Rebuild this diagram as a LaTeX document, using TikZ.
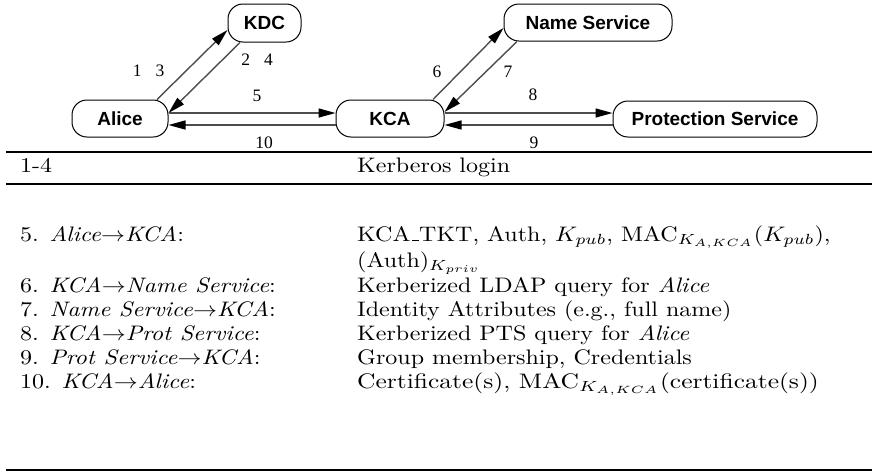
\documentclass[tikz,border=0pt]{standalone}
\usepackage{graphicx}
\usepackage{fontspec}
\newfontfamily\helv{Liberation Sans}
\newfontfamily\tms{Liberation Serif}
\usetikzlibrary{arrows.meta}
\newcommand{\tabtxt}[1]{\scalebox{2.4}[2.1]{\normalsize #1}}
\newcommand{\tabwide}[1]{\scalebox{2.55}[2.1]{\normalsize #1}}
\newcommand{\ulsc}{\leavevmode\kern.06em\vbox{\hrule width.3em}}
\begin{document}
\begin{tikzpicture}[x=1pt,y=-1pt,
  box/.style={draw=black, line width=1pt, rounded corners=15pt, font=\helv\bfseries\fontsize{19}{22}\selectfont, inner sep=0pt},
  conn/.style={draw=black!70, line width=1.4pt, -{Triangle[length=17pt,width=9pt,color=black]}},
  lbl/.style={font=\tms\fontsize{17.5}{20}\selectfont, inner sep=0pt},
  tab/.style={anchor=base west, inner sep=0pt},
  hrule/.style={line width=2.5pt}]
\useasboundingbox (0,0) rectangle (872,475);
% nodes
\node[box, minimum width=73pt, minimum height=38pt] (kdc) at (264.5,23) {KDC};
\node[box, minimum width=96pt, minimum height=37pt] (alice) at (120,118.5) {Alice};
\node[box, minimum width=108pt, minimum height=37pt] (kca) at (390,118.5) {KCA};
\node[box, minimum width=168pt, minimum height=37pt] (ns) at (588,22.5) {Name Service};
\node[box, minimum width=204pt, minimum height=36pt] (ps) at (715,119) {Protection Service};
% connectors
\draw[conn] ([xshift=37pt]alice.north) -- ([yshift=-7pt]kdc.west);
\draw[conn] ([xshift=-24.5pt]kdc.south) -- ([yshift=5.5pt]alice.east);
\draw[conn] ([yshift=5.5pt]alice.east) -- ([yshift=5.5pt]kca.west);
\draw[conn] ([yshift=-6.5pt]kca.west) -- ([yshift=-6.5pt]alice.east);
\draw[conn] ([xshift=43pt]kca.north) -- ([yshift=-5.5pt]ns.west);
\draw[conn] ([xshift=-71pt]ns.south) -- ([yshift=6.5pt]kca.east);
\draw[conn] ([yshift=5.5pt]kca.east) -- ([yshift=6pt]ps.west);
\draw[conn] ([yshift=-6pt]ps.west) -- ([yshift=-6.5pt]kca.east);
% labels
\node[lbl] (l13) at (148.5,71) {1\hspace{14pt}3};
\node[lbl] (l24) at (257,60) {2\hspace{14pt}4};
\node[lbl] (l5) at (257,96) {5};
\node[lbl] (l10) at (264,143) {10};
\node[lbl] (l6) at (437,72) {6};
\node[lbl] (l7) at (508,72) {7};
\node[lbl] (l8) at (533,95) {8};
\node[lbl] (l9) at (534,143) {9};
% rules
\coordinate (r1a) at (6,152); \coordinate (r1b) at (872,152);
\coordinate (r2a) at (6,184); \coordinate (r2b) at (872,184);
\coordinate (r3a) at (6,470); \coordinate (r3b) at (872,470);
\draw[hrule] (r1a) -- (r1b);
\draw[line width=2pt] (r2a) -- (r2b);
\draw[hrule] (r3a) -- (r3b);
% table
\node[tab] (a0) at (20,172) {\tabtxt{1-4}};
\node[tab] (b0) at (357,172) {\tabtxt{Kerberos login}};
\node[tab] (a5) at (20,241) {\tabtxt{5. \textit{Alice}$\rightarrow$\textit{KCA}:}};
\node[tab] (b5) at (357,241) {\tabtxt{KCA\ulsc TKT, Auth, $K_{pub}$, MAC$_{K_{A,KCA}}(K_{pub})$,}};
\node[tab] (b5b) at (357,267) {\tabtxt{(Auth)$_{K_{priv}}$}};
\node[tab] (a6) at (20,292) {\tabtxt{6. \textit{KCA}$\rightarrow$\textit{Name Service}:}};
\node[tab] (b6) at (357,292) {\tabtxt{Kerberized LDAP query for \textit{Alice}}};
\node[tab] (a7) at (20,316) {\tabtxt{7. \textit{Name Service}$\rightarrow$\textit{KCA}:}};
\node[tab] (b7) at (357,316) {\tabtxt{Identity Attributes (e.g., full name)}};
\node[tab] (a8) at (20,340) {\tabtxt{8. \textit{KCA}$\rightarrow$\textit{Prot Service}:}};
\node[tab] (b8) at (357,340) {\tabtxt{Kerberized PTS query for \textit{Alice}}};
\node[tab] (a9) at (20,364) {\tabtxt{9. \textit{Prot Service}$\rightarrow$\textit{KCA}:}};
\node[tab] (b9) at (357,364) {\tabtxt{Group membership, Credentials}};
\node[tab] (a10) at (20,388) {\tabtxt{10. \textit{KCA}$\rightarrow$\textit{Alice}:}};
\node[tab] (b10) at (357,388) {\tabwide{Certificate(s), MAC$_{K_{A,KCA}}$(certificate(s))}};
\end{tikzpicture}
\end{document}
